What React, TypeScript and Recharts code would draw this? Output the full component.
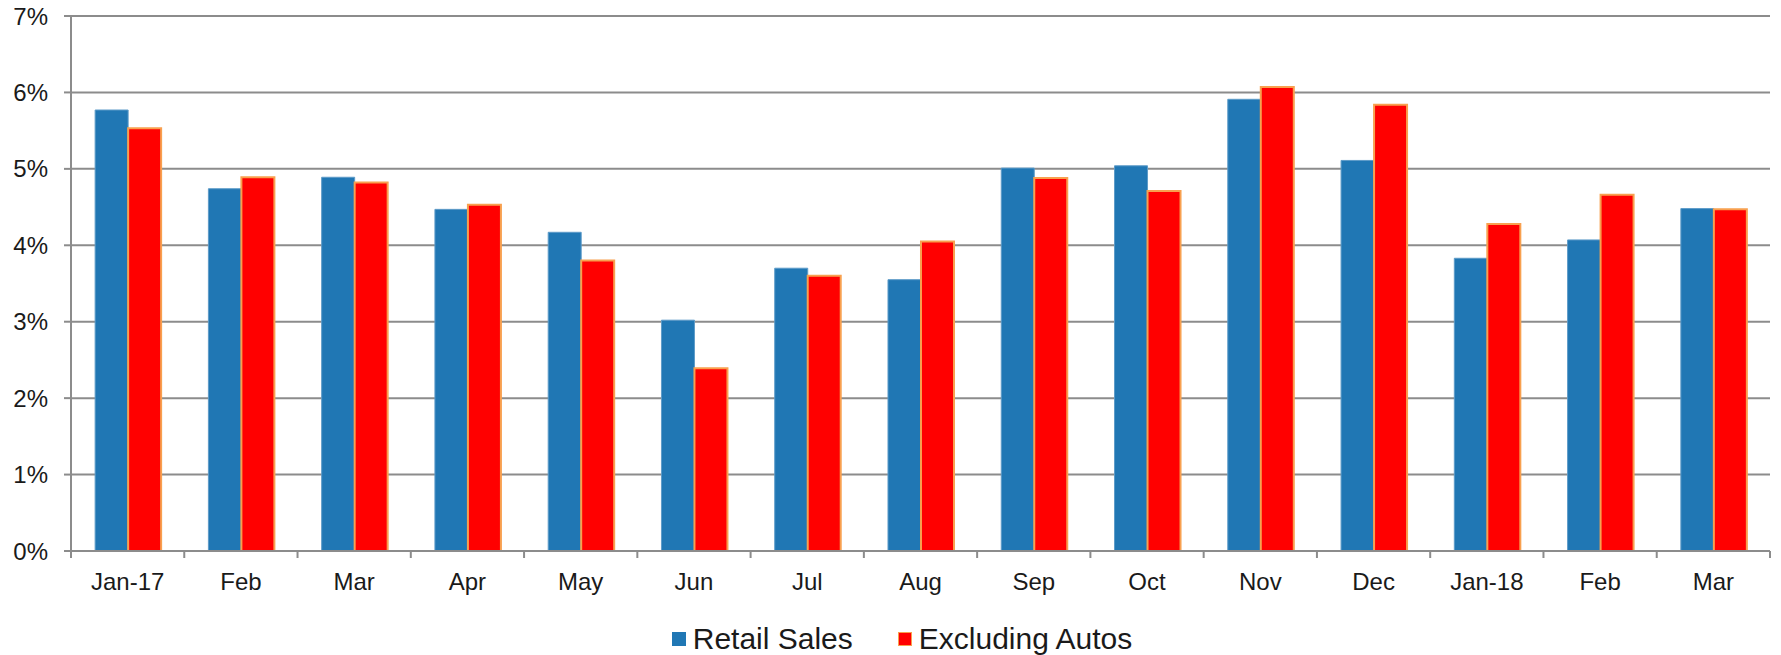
import { BarChart, Bar, XAxis, YAxis, CartesianGrid, Legend } from 'recharts'

const months = ['Jan-17', 'Feb', 'Mar', 'Apr', 'May', 'Jun', 'Jul', 'Aug', 'Sep', 'Oct', 'Nov', 'Dec', 'Jan-18', 'Feb', 'Mar']
const retailSales = [5.77, 4.74, 4.89, 4.47, 4.17, 3.02, 3.7, 3.55, 5.01, 5.04, 5.91, 5.11, 3.83, 4.07, 4.48]
const excludingAutos = [5.53, 4.89, 4.82, 4.53, 3.8, 2.39, 3.6, 4.05, 4.88, 4.71, 6.07, 5.84, 4.28, 4.66, 4.47]
const seriesNames = ['Retail Sales', 'Excluding Autos']
const yTicks = [0, 1, 2, 3, 4, 5, 6, 7]

const data = months.map((m, i) => ({ month: m, retail: retailSales[i], exAutos: excludingAutos[i] }))

const W = 1781
const H = 655
const PLOT_LEFT = 71
const PLOT_RIGHT = 1770
const GRID = '#8c8c8c'
const FONT = '"Liberation Sans", Arial, sans-serif'
const band = (PLOT_RIGHT - PLOT_LEFT) / months.length

function MonthTick(props: any) {
  const { x, y, payload, index } = props
  const left = x - band / 2
  return (
    <g>
      <line x1={left} x2={left} y1={y} y2={y + 7} stroke={GRID} strokeWidth={2} />
      {index === months.length - 1 && (
        <line x1={x + band / 2} x2={x + band / 2} y1={y} y2={y + 7} stroke={GRID} strokeWidth={2} />
      )}
      <text x={x} y={y + 39} textAnchor="middle" fontSize={24} fill="#1a1a1a" fontFamily={FONT}>
        {payload.value}
      </text>
    </g>
  )
}

function LegendContent(props: any) {
  const items = [...(props.payload || [])].sort(
    (a: any, b: any) => seriesNames.indexOf(a.value) - seriesNames.indexOf(b.value)
  )
  return (
    <div
      style={{
        display: 'flex',
        justifyContent: 'center',
        alignItems: 'center',
        height: 44,
        paddingTop: 12,
        boxSizing: 'border-box',
        paddingLeft: 34,
        fontFamily: FONT,
        fontSize: 30,
        color: '#1a1a1a',
      }}
    >
      {items.map((p: any, i: number) => (
        <div key={p.value} style={{ display: 'flex', alignItems: 'center', marginLeft: i === 0 ? 0 : 45 }}>
          <span
            style={{
              display: 'inline-block',
              width: 14,
              height: 14,
              background: p.color,
              boxSizing: 'border-box',
              border: p.value === 'Excluding Autos' ? '1px solid #f8a04f' : 'none',
              marginRight: 7,
            }}
          />
          <span>{p.value}</span>
        </div>
      ))}
    </div>
  )
}

export default function App() {
  return (
    <div style={{ position: 'absolute', left: 0, top: 0, width: W, height: H, background: '#fff' }}>
      <BarChart
        width={W}
        height={H}
        data={data}
        margin={{ top: 16, right: W - PLOT_RIGHT, bottom: 0, left: 0 }}
        barCategoryGap="21.3%"
        barGap={0}
      >
        <CartesianGrid vertical={false} stroke={GRID} strokeWidth={2} />
        <XAxis
          dataKey="month"
          interval={0}
          tickLine={false}
          tickSize={0}
          tickMargin={0}
          height={60}
          axisLine={{ stroke: GRID, strokeWidth: 2 }}
          tick={<MonthTick />}
        />
        <YAxis
          width={PLOT_LEFT}
          domain={[0, 7]}
          ticks={yTicks}
          interval={0}
          tickFormatter={(v: number) => `${v}%`}
          tickSize={7}
          tickMargin={16}
          tickLine={{ stroke: GRID, strokeWidth: 2 }}
          axisLine={{ stroke: GRID, strokeWidth: 2 }}
          tick={{ fontSize: 24, fill: '#1a1a1a', fontFamily: FONT }}
        />
        <Legend verticalAlign="bottom" content={<LegendContent />} />
        <Bar dataKey="retail" name={seriesNames[0]} fill="#2077b4" stroke="#5d9bc8" strokeWidth={1} isAnimationActive={false} />
        <Bar dataKey="exAutos" name={seriesNames[1]} fill="#ff0000" stroke="#f8a04f" strokeWidth={2} isAnimationActive={false} />
      </BarChart>
    </div>
  )
}
